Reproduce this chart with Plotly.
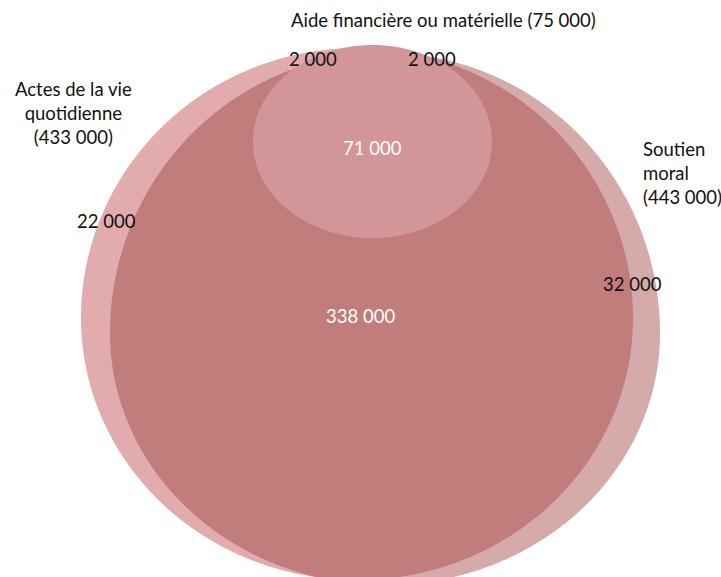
import numpy as np
import plotly.graph_objects as go

# ---- data (counts, from the reference) ----
set_names = ["Actes de la vie<br>quotidienne", "Soutien<br>moral", "Aide financière ou matérielle"]
set_totals = ["433 000", "443 000", "75 000"]
region_names = ["Actes seul", "Soutien seul", "Actes + Soutien", "Aide + Actes", "Aide + Soutien", "Les trois"]
region_values = ["22 000", "32 000", "338 000", "2 000", "2 000", "71 000"]

# ---- layout geometry (pixel space) ----
W, H = 721, 577
# (cx, cy, rx, ry_top, ry_bottom)
geo_left = (357, 318, 276, 270, 262)
geo_right = (385, 333, 275, 280, 252)
geo_small = (372.5, 141.5, 119.5, 96.5, 96.5)

col_left = "#E2ACAF"
col_right = "#D5AAAB"
col_both = "#C17C7C"
col_small = "#D39698"


def outline(g, n=720):
    cx, cy, rx, ryt, ryb = g
    t = np.linspace(0, 2 * np.pi, n)
    x = cx + rx * np.cos(t)
    s = np.sin(t)
    y = cy + np.where(s < 0, ryt, ryb) * s
    return x, y


def inside(g, x, y):
    cx, cy, rx, ryt, ryb = g
    ry = np.where(y < cy, ryt, ryb)
    return ((x - cx) / rx) ** 2 + ((y - cy) / ry) ** 2 <= 1.0


def intersection(g1, g2):
    x1, y1 = outline(g1, 4000)
    x2, y2 = outline(g2, 4000)
    m1 = inside(g2, x1, y1)
    m2 = inside(g1, x2, y2)
    x = np.concatenate([x1[m1], x2[m2]])
    y = np.concatenate([y1[m1], y2[m2]])
    mx, my = x.mean(), y.mean()
    order = np.argsort(np.arctan2(y - my, x - mx))
    x, y = x[order], y[order]
    return np.append(x, x[0]), np.append(y, y[0])


fig = go.Figure()
for g, c in [(geo_left, col_left), (geo_right, col_right)]:
    x, y = outline(g)
    fig.add_trace(go.Scatter(x=x, y=y, fill="toself", fillcolor=c, mode="none", hoverinfo="skip"))
xi, yi = intersection(geo_left, geo_right)
fig.add_trace(go.Scatter(x=xi, y=yi, fill="toself", fillcolor=col_both, mode="none", hoverinfo="skip"))
xs, ys = outline(geo_small)
fig.add_trace(go.Scatter(x=xs, y=ys, fill="toself", fillcolor=col_small, mode="none", hoverinfo="skip"))

font = "Lato, 'Open Sans', sans-serif"
FS = 18.5
# set labels
fig.add_annotation(x=443, y=20, text=f"{set_names[2]} ({set_totals[2]})", showarrow=False,
                   font=dict(family=font, size=FS, color="#111"), xanchor="center", yanchor="middle")
fig.add_annotation(x=73, y=113, text=f"{set_names[0]}<br>({set_totals[0]})", showarrow=False,
                   font=dict(family=font, size=FS, color="#111"), xanchor="center", yanchor="middle", align="center")
fig.add_annotation(x=641, y=173, text=f"{set_names[1]}<br>({set_totals[1]})", showarrow=False,
                   font=dict(family=font, size=FS, color="#111"), xanchor="left", yanchor="middle", align="left")

# region labels
region_pos = [(106, 221), (632, 284), (360, 316), (313, 59), (432, 59), (372, 148)]
region_col = ["#111", "#111", "#fff", "#111", "#111", "#fff"]
for (px, py), v, c in zip(region_pos, region_values, region_col):
    fig.add_annotation(x=px, y=py, text=v, showarrow=False,
                       font=dict(family=font, size=FS, color=c), xanchor="center", yanchor="middle")

fig.update_layout(
    width=W, height=H, margin=dict(l=0, r=0, t=0, b=0),
    paper_bgcolor="white", plot_bgcolor="white", showlegend=False,
    xaxis=dict(range=[0, W], visible=False, fixedrange=True),
    yaxis=dict(range=[H, 0], visible=False, fixedrange=True),
)
fig.write_html("out.html", config={"displayModeBar": False})

# remove default page margin so the figure fills the window exactly
with open("out.html", encoding="utf-8") as f:
    html = f.read()
html = html.replace("<head>", "<head><style>html,body{margin:0;padding:0;overflow:hidden;}</style>", 1)
with open("out.html", "w", encoding="utf-8") as f:
    f.write(html)
